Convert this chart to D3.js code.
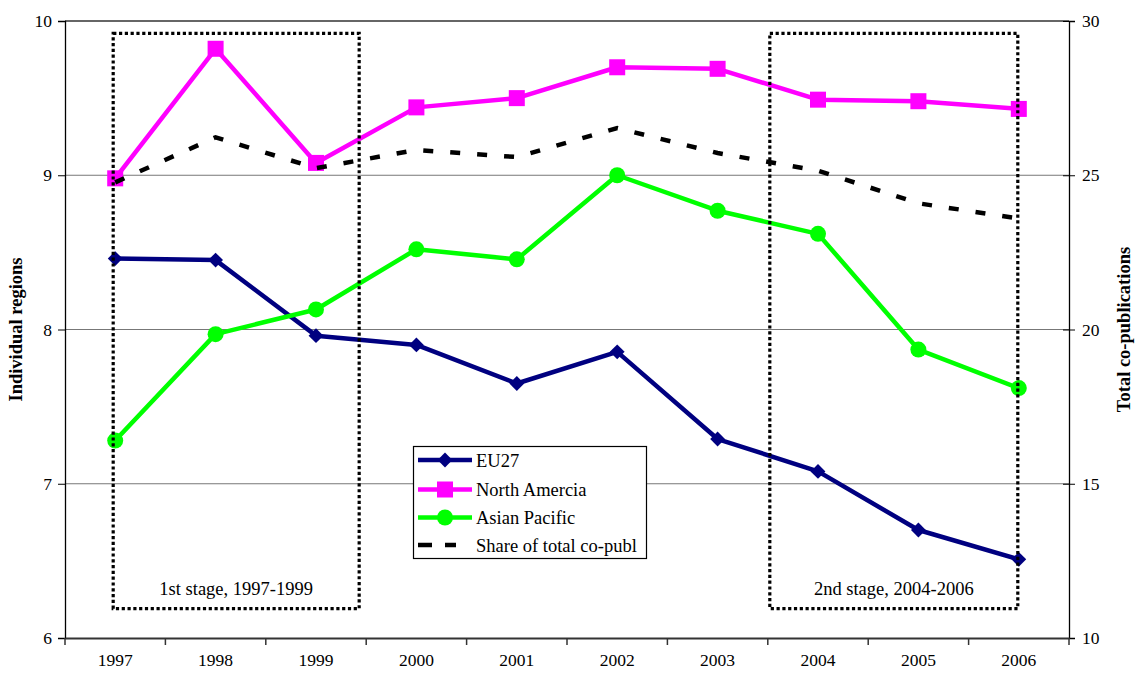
<!DOCTYPE html>
<html><head><meta charset="utf-8">
<script src="https://cdn.jsdelivr.net/npm/d3@7"></script>
<style>
body{margin:0;background:#fff;}
text{font-family:"Liberation Serif","Times New Roman",serif;fill:#000;}
</style></head>
<body><svg id="c" width="1137" height="675"></svg>
<script>
const years = [1997,1998,1999,2000,2001,2002,2003,2004,2005,2006];
const eu27 = [8.46,8.45,7.96,7.90,7.65,7.855,7.29,7.08,6.70,6.51];
const northAmerica = [8.98,9.82,9.08,9.44,9.50,9.70,9.69,9.49,9.48,9.43];
const asianPacific = [7.28,7.97,8.13,8.52,8.455,9.00,8.77,8.62,7.87,7.62];
const shareTotal = [24.77,26.23,25.23,25.82,25.59,26.53,25.72,25.15,24.09,23.60];
const leftTicks = [6,7,8,9,10];
const rightTicks = [10,15,20,25,30];
const seriesNames = ["EU27","North Amercia","Asian Pacific","Share of total co-publ"];
const stageLabels = ["1st stage, 1997-1999","2nd stage, 2004-2006"];
const stageYears = [[1996.98,1999.43],[2003.52,2005.99]];
const stageRange = [6.19,9.92];

const svg = d3.select("#c");
const L=65,R=1069,T=21,B=638;
const x = d3.scaleBand().domain(years).range([L,R]);
const xc = d => x(d)+x.bandwidth()/2;
const xYear = d3.scaleLinear().domain([1997,2006]).range([xc(1997),xc(2006)]);
const yL = d3.scaleLinear().domain([6,10]).range([B,T]);
const yR = d3.scaleLinear().domain([10,30]).range([B,T]);

// gridlines
svg.append("g").selectAll("line").data(leftTicks.filter(t=>t>6)).join("line")
  .attr("x1",L).attr("x2",R).attr("y1",d=>yL(d)).attr("y2",d=>yL(d))
  .attr("stroke",d=>d===10?"#333":"#777").attr("stroke-width",d=>d===10?1.5:1.2);

// left axis
const gL = svg.append("g").attr("transform",`translate(${L},0)`)
  .call(d3.axisLeft(yL).tickValues(leftTicks).tickSize(7).tickPadding(6).tickFormat(d3.format("d")));
gL.select(".domain").attr("stroke","#000").attr("stroke-width",1.3);
gL.selectAll(".tick line").attr("stroke","#000");
gL.selectAll("text").style("font-size","17.5px").style("font-family","Liberation Serif");

// right axis
const gR = svg.append("g").attr("transform",`translate(${R},0)`)
  .call(d3.axisRight(yR).tickValues(rightTicks).tickSize(6).tickPadding(7).tickFormat(d3.format("d")));
gR.select(".domain").attr("stroke","#000").attr("stroke-width",1.3);
gR.selectAll(".tick line").attr("stroke","#000").attr("x1",-6);
gR.selectAll("text").style("font-size","17.5px").style("font-family","Liberation Serif");

// bottom axis
const gB = svg.append("g").attr("transform",`translate(0,${B})`)
  .call(d3.axisBottom(x).tickSize(0).tickPadding(16));
gB.select(".domain").attr("stroke","#333").attr("stroke-width",2);
gB.selectAll("text").style("font-size","17.5px").style("font-family","Liberation Serif");
svg.append("g").selectAll("line").data(years.concat([null])).join("line")
  .attr("x1",(d,i)=>i<years.length?x(d):R).attr("x2",(d,i)=>i<years.length?x(d):R)
  .attr("y1",B).attr("y2",B+7).attr("stroke","#333").attr("stroke-width",1.5);

// axis titles
svg.append("text").attr("transform",`translate(22,${(T+B)/2}) rotate(-90)`)
  .attr("text-anchor","middle").style("font-weight","bold").style("font-size","18.5px").text("Individual regions");
svg.append("text").attr("transform",`translate(1130,${(T+B)/2}) rotate(-90)`)
  .attr("text-anchor","middle").style("font-weight","bold").style("font-size","18.5px").text("Total co-publications");

// series
const colors = ["#000080","#ff00ff","#00ff00"];
const leftSeries = [eu27,northAmerica,asianPacific];
const lineL = d3.line().x((d,i)=>xc(years[i])).y(d=>yL(d));
function marker(g,k){
  if(k===0){ g.append("path").attr("d",d3.symbol().type(d3.symbolSquare).size(110)()).attr("transform","rotate(45)").attr("fill",colors[0]); }
  else if(k===1){ g.append("rect").attr("x",-8).attr("y",-8).attr("width",16).attr("height",16).attr("fill",colors[1]); }
  else { g.append("circle").attr("r",8).attr("fill",colors[2]); }
}
leftSeries.forEach((s,k)=>{
  svg.append("path").datum(s).attr("d",lineL).attr("fill","none")
    .attr("stroke",colors[k]).attr("stroke-width",4.5).attr("stroke-linejoin","round");
  s.forEach((v,i)=>{
    const g = svg.append("g").attr("transform",`translate(${xc(years[i])},${yL(v)})`);
    marker(g,k);
  });
});
const lineR = d3.line().x((d,i)=>xc(years[i])).y(d=>yR(d));
svg.append("path").datum(shareTotal).attr("d",lineR).attr("fill","none")
  .attr("stroke","#000").attr("stroke-width",4.5).attr("stroke-dasharray","10,17");

// stage boxes
stageYears.forEach((sy,i)=>{
  const x0=xYear(sy[0]), x1=xYear(sy[1]), y0=yL(stageRange[1]), y1=yL(stageRange[0]);
  svg.append("rect").attr("x",x0).attr("y",y0).attr("width",x1-x0).attr("height",y1-y0)
    .attr("fill","none").attr("stroke","#000").attr("stroke-width",3.2).attr("stroke-dasharray","3.2,2.6");
  svg.append("text").attr("x",(x0+x1)/2).attr("y",y1-14).attr("text-anchor","middle")
    .style("font-size","18.5px").text(stageLabels[i]);
});

// legend
const lg = svg.append("g");
lg.append("rect").attr("x",413.5).attr("y",446.5).attr("width",233).attr("height",112)
  .attr("fill","#fff").attr("stroke","#000").attr("stroke-width",1.2);
const rowY = [460,489.5,517.5,545];
seriesNames.forEach((n,k)=>{
  const y=rowY[k];
  if(k<3){
    lg.append("line").attr("x1",418).attr("x2",472).attr("y1",y).attr("y2",y)
      .attr("stroke",colors[k]).attr("stroke-width",4.5);
    const g=lg.append("g").attr("transform",`translate(445,${y})`);
    marker(g,k);
  } else {
    lg.append("line").attr("x1",418).attr("x2",456).attr("y1",y).attr("y2",y)
      .attr("stroke","#000").attr("stroke-width",4.5).attr("stroke-dasharray","14,13");
  }
  lg.append("text").attr("x",476).attr("y",y+6.5).style("font-size","18.5px").text(n);
});
</script></body></html>
